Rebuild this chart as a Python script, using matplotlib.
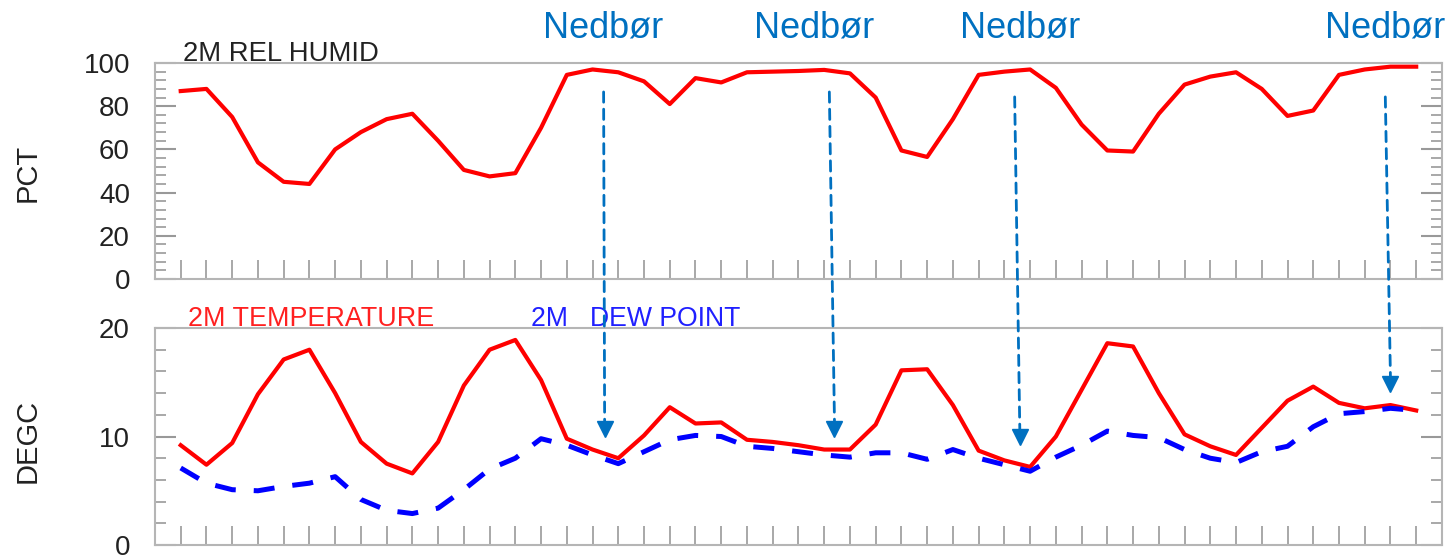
import numpy as np
import matplotlib
matplotlib.use('Agg')
import matplotlib.pyplot as plt
from matplotlib.patches import ConnectionPatch
from matplotlib.ticker import MultipleLocator

plt.rcParams['font.family'] = ['Liberation Sans', 'DejaVu Sans']

# time steps along the x axis
steps = np.arange(49)

# 2 m relative humidity (%)
rel_humid = [87, 88, 75, 54, 45, 44, 60, 68, 74, 76.5, 64, 50.5, 47.5,
             49, 70, 94.5, 97, 95.7, 91.5, 81, 93, 91, 95.7, 96, 96.3, 96.8, 95.2, 84, 59.5, 56.5,
             74, 94.5, 96, 97, 88.5, 71.5, 59.5, 59, 76.5, 90, 93.7, 95.7, 88, 75.5, 78, 94.5, 97, 98.3, 98.3]

# 2 m temperature and dew point (degC)
temp = [9.2, 7.4, 9.4, 13.9, 17.1, 18.0, 14.0, 9.5, 7.5, 6.6, 9.5, 14.7, 18.0,
        18.9, 15.2, 9.8, 8.8, 8.0, 10.1, 12.7, 11.2, 11.3, 9.7, 9.5, 9.2, 8.8, 8.8, 11.1, 16.1, 16.2,
        12.9, 8.7, 7.8, 7.2, 10.0, 14.3, 18.6, 18.3, 14.0, 10.2, 9.1, 8.3, 10.8, 13.3, 14.6, 13.1, 12.6, 12.9, 12.4]
dew = [7.1, 5.7, 5.1, 5.0, 5.4, 5.7, 6.3, 4.2, 3.2, 2.9, 3.4, 5.1, 7.0,
       8.0, 9.8, 9.2, 8.3, 7.5, 8.6, 9.7, 10.1, 10.0, 9.1, 8.9, 8.6, 8.3, 8.1, 8.5, 8.5, 7.9,
       8.8, 8.0, 7.4, 6.8, 8.1, 9.2, 10.5, 10.1, 9.9, 8.8, 8.0, 7.6, 8.6, 9.1, 10.9, 12.1, 12.3, 12.6, 12.4]

# precipitation markers ("Nedbør") : arrow start (top panel) -> tip (bottom panel)
rain_label = 'Nedbør'
rain_label_x = [16.4, 24.6, 32.6, 46.8]
rain_x = [16.43, 25.2, 32.4, 46.8]
rain_top = [86.6, 86.6, 84.3, 84.3]
rain_tip_x = [16.47, 25.4, 32.6, 47.0]
rain_tip = [10.0, 10.0, 9.3, 14.1]

rain_col = '#0070C0'
frame_col = '#b5b5b5'
tick_col = '#999999'
txt_col = '#222222'

fig = plt.figure(figsize=(14.47, 5.57), dpi=100)
ax1 = fig.add_axes([0.1071, 0.4991, 0.8894, 0.3878])
ax2 = fig.add_axes([0.1071, 0.0215, 0.8894, 0.3896])

for ax in (ax1, ax2):
    ax.set_xlim(-1, 49)
    ax.set_xticks(steps)
    ax.tick_params(axis='x', direction='in', length=14, width=1.2, color=tick_col, labelbottom=False)
    ax.tick_params(axis='y', which='both', direction='in', left=True, right=True,
                   color=tick_col, labelsize=20, labelcolor=txt_col, pad=18)
    ax.tick_params(axis='y', which='major', length=15, width=1.5)
    ax.tick_params(axis='y', which='minor', length=8, width=1.2)
    for spine in ax.spines.values():
        spine.set_color(frame_col)
        spine.set_linewidth(1.5)

ax1.set_ylim(0, 100)
ax1.yaxis.set_major_locator(MultipleLocator(20))
ax1.yaxis.set_minor_locator(MultipleLocator(4))
ax2.set_ylim(0, 20)
ax2.yaxis.set_major_locator(MultipleLocator(10))
ax2.yaxis.set_minor_locator(MultipleLocator(2))

# digits only: center them on the tick without the descender space
for ax in (ax1, ax2):
    for lab in ax.get_yticklabels():
        lab.set_va('center_baseline')

ax1.plot(steps, rel_humid, color='red', lw=3)
ax2.plot(steps, temp, color='red', lw=3)
ax2.plot(steps, dew, color='blue', lw=3.6, dashes=(4.2, 3.6))

ax1.set_ylabel('PCT', fontsize=21, color=txt_col, va='center')
ax1.yaxis.set_label_coords(-0.0987, 0.49)
ax2.set_ylabel('DEGC', fontsize=21, color=txt_col, va='center')
ax2.yaxis.set_label_coords(-0.0987, 0.48)

ax1.text(0.0218, 1.009, '2M REL HUMID', transform=ax1.transAxes, fontsize=19.8,
         color=txt_col, va='baseline', ha='left')
ax2.text(0.0256, 1.009, '2M TEMPERATURE', transform=ax2.transAxes, fontsize=19.4,
         color='#ff2020', va='baseline', ha='left')
ax2.text(0.2922, 1.009, '2M   DEW POINT', transform=ax2.transAxes, fontsize=19.2,
         color='#2020ff', va='baseline', ha='left')

for k in range(len(rain_x)):
    ax1.text(rain_label_x[k], 112, rain_label, fontsize=26, color=rain_col,
             ha='center', va='baseline', clip_on=False)
    con = ConnectionPatch(xyA=(rain_x[k], rain_top[k]), coordsA=ax1.transData,
                          xyB=(rain_tip_x[k], rain_tip[k] + 1.3), coordsB=ax2.transData,
                          color=rain_col, lw=2, linestyle=(0, (3.7, 2.5)), zorder=5)
    fig.add_artist(con)
    ax2.plot(rain_tip_x[k], rain_tip[k] + 0.7, marker='v', ms=12, color=rain_col,
             clip_on=False, zorder=6)

fig.savefig('out.png', dpi=100)
